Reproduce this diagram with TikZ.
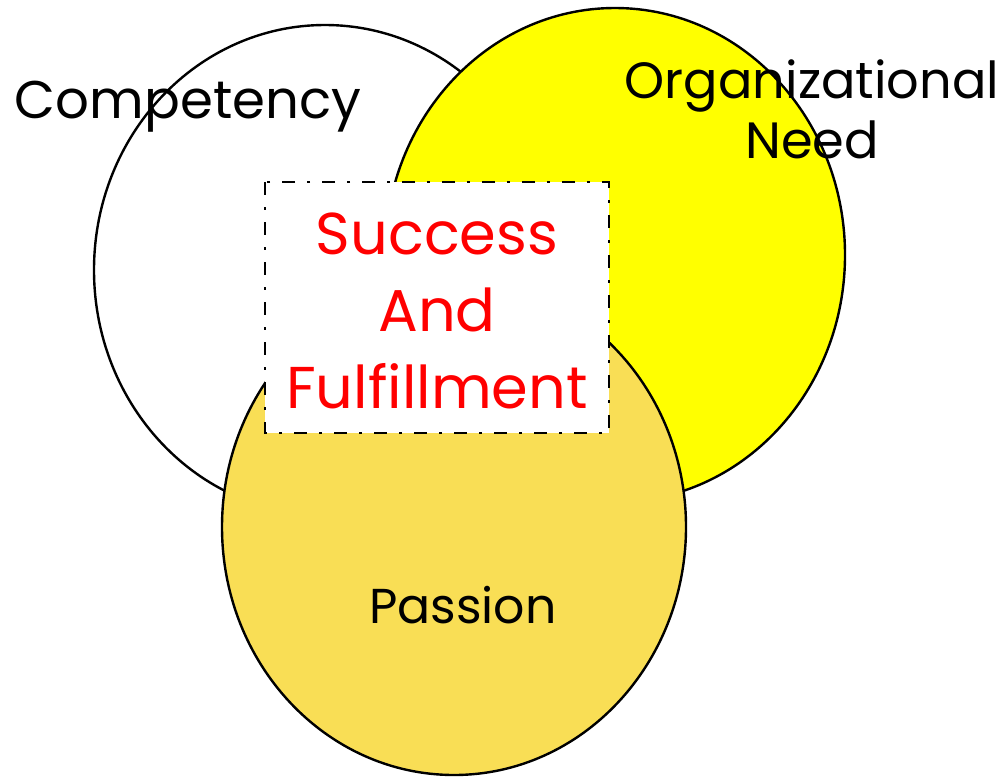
\documentclass[tikz,border=0pt]{standalone}
\usepackage{fontspec}
\setmainfont{Poppins}
\usetikzlibrary{shapes.geometric}
\definecolor{passionfill}{HTML}{F9DE55}
\definecolor{needfill}{HTML}{FFFF00}
\tikzset{
  blob/.style={ellipse, draw=black, line width=2.4pt, inner sep=0pt},
  label/.style={text=black, inner sep=0pt},
  core/.style={font=\fontsize{59}{77}\selectfont, text=red, inner sep=0pt, align=center},
  frame/.style={draw=black, fill=white, line width=2.4pt,
    dash pattern=on 13pt off 12pt on 3pt off 12pt}
}
\begin{document}
\begin{tikzpicture}[x=1pt,y=-1pt]
\useasboundingbox (0,0) rectangle (1008,776);
\node[blob, fill=white, minimum width=462pt, minimum height=490pt] (comp) at (325,270) {};
\node[blob, fill=needfill, minimum width=460pt, minimum height=494pt] (need) at (615,255) {};
\node[blob, fill=passionfill, minimum width=464pt, minimum height=496pt] (pass) at (454,527) {};
\draw[frame] (265,182) rectangle (609,433);
\node[core, anchor=base] (succ) at (437,408) {Success\\And\\Fulfillment};
\node[label, anchor=base, font=\fontsize{53}{60}\selectfont] (lcomp) at (188,118) {Competency};
\node[label, anchor=base, align=center, font=\fontsize{51}{60}\selectfont] (lneed) at (812,158) {Organizational\\Need};
\node[label, anchor=base, font=\fontsize{49}{60}\selectfont] (lpass) at (463,623) {Passion};
\end{tikzpicture}
\end{document}
